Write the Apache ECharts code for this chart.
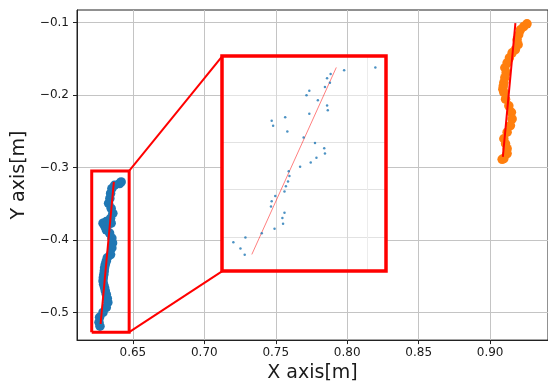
<!DOCTYPE html>
<html><head><meta charset="utf-8">
<script src="https://cdn.jsdelivr.net/npm/echarts@6/dist/echarts.min.js"></script>
<style>html,body{margin:0;padding:0;background:#fff}#c{width:548px;height:388px}</style>
</head><body><div id="c"></div><script>
// Axis ticks
const xTicks = [0.65, 0.70, 0.75, 0.80, 0.85, 0.90];
const xTickLabels = ['0.65', '0.70', '0.75', '0.80', '0.85', '0.90'];
const yTicks = [-0.5, -0.4, -0.3, -0.2, -0.1];
const yTickLabels = ['\u22120.5', '\u22120.4', '\u22120.3', '\u22120.2', '\u22120.1'];
const xRange = [0.6109, 0.9405];
const yRange = [-0.5378, -0.0827];

// Blue trajectory
const blueX = [0.6418,0.6407,0.6372,0.6353,0.6344,0.6339,0.6330,0.6348,0.6360,0.6344,0.6314,0.6291,0.6348,0.6302,0.6314,0.6337,0.6353,0.6358,0.6353,0.6344,0.6321,0.6314,0.6307,0.6302,0.6300,0.6297,0.6293,0.6291,0.6295,0.6302,0.6307,0.6314,0.6321,0.6325,0.6314,0.6291,0.6267,0.6263,0.6270];
const blueY = [-0.3197,-0.3220,-0.3243,-0.3288,-0.3356,-0.3425,-0.3493,-0.3561,-0.3630,-0.3698,-0.3743,-0.3766,-0.3766,-0.3803,-0.3858,-0.3903,-0.3971,-0.4039,-0.4108,-0.4199,-0.4244,-0.4290,-0.4336,-0.4381,-0.4426,-0.4473,-0.4518,-0.4563,-0.4609,-0.4654,-0.4699,-0.4746,-0.4802,-0.4859,-0.4928,-0.4996,-0.5064,-0.5133,-0.5187];
const blueFitX = [0.6367, 0.6274];
const blueFitY = [-0.3197, -0.5156];

// Orange trajectory
const orangeX = [0.9258,0.9235,0.9212,0.9200,0.9189,0.9196,0.9177,0.9154,0.9135,0.9119,0.9103,0.9112,0.9103,0.9096,0.9092,0.9089,0.9096,0.9108,0.9131,0.9149,0.9154,0.9142,0.9119,0.9096,0.9108,0.9119,0.9119,0.9096,0.9084];
const orangeY = [-0.1018,-0.1055,-0.1100,-0.1168,-0.1236,-0.1305,-0.1373,-0.1418,-0.1486,-0.1555,-0.1623,-0.1691,-0.1760,-0.1828,-0.1875,-0.1919,-0.1964,-0.2056,-0.2148,-0.2238,-0.2329,-0.2421,-0.2511,-0.2602,-0.2671,-0.2739,-0.2807,-0.2876,-0.2885];
const orangeFitX = [0.9177, 0.9089];
const orangeFitY = [-0.1008, -0.2852];

// Zoom box (data) and inset placement (in main data units)
const zoomBoxX = [0.6212, 0.6474];
const zoomBoxY = [-0.5269, -0.3046];
const insetBoxX = [0.7126, 0.8272];
const insetBoxY = [-0.4426, -0.1464];

// Inset axes
const insetXRange = [0.6224, 0.6455];
const insetYRange = [-0.536, -0.3088];
const insetXTicks = [0.630, 0.640, 0.6428];
const insetYTicks = [-0.50, -0.45, -0.40, -0.35];
const insetX = [0.6396,0.6440,0.6377,0.6372,0.6376,0.6369,0.6347,0.6343,0.6359,0.6372,0.6373,0.6347,0.6313,0.6294,0.6296,0.6316,0.6339,0.6355,0.6368,0.6369,0.6357,0.6349,0.6334,0.6318,0.6319,0.6317,0.6314,0.6312,0.6299,0.6294,0.6293,0.6312,0.6309,0.6310,0.6298,0.6280,0.6257,0.6240,0.6250,0.6256];
const insetY = [-0.3238,-0.3209,-0.3277,-0.3322,-0.3371,-0.3416,-0.3455,-0.3503,-0.3556,-0.3612,-0.3661,-0.3699,-0.3734,-0.3773,-0.3825,-0.3885,-0.3948,-0.4007,-0.4063,-0.4119,-0.4164,-0.4213,-0.4258,-0.4305,-0.4357,-0.4413,-0.4465,-0.4521,-0.4567,-0.4622,-0.4678,-0.4745,-0.4801,-0.4860,-0.4913,-0.4961,-0.5007,-0.5056,-0.5123,-0.5189];
const insetFitX = [0.6266, 0.6385];
const insetFitY = [-0.5185, -0.3209];

const zip = (a, b) => a.map((v, i) => [v, b[i]]);
const FONT = 'DejaVu Sans';
const TXT = '#1a1a1a';
const AX = '#222';

const chart = echarts.init(document.getElementById('c'), null, {renderer: 'canvas'});

const option = {
  animation: false,
  backgroundColor: '#fff',
  grid: [
    {left: 77, top: 10, right: -1, bottom: 45, show: true, borderColor: AX, borderWidth: 1, z: 0},
    {left: 223, top: 57, width: 164, height: 216, show: true, backgroundColor: '#fff', borderColor: 'rgba(0,0,0,0)', borderWidth: 0, z: 10}
  ],
  xAxis: [
    {
      type: 'value', gridIndex: 0, min: xRange[0], max: xRange[1],
      name: 'X axis[m]', nameLocation: 'middle', nameGap: 22,
      nameTextStyle: {fontFamily: FONT, fontSize: 19, color: TXT},
      axisLine: {show: true, onZero: false, lineStyle: {color: AX, width: 1}},
      axisTick: {show: true, length: 4, lineStyle: {color: AX}, customValues: xTicks},
      axisLabel: {show: true, margin: 7, fontFamily: FONT, fontSize: 12, color: TXT, customValues: xTicks,
        formatter: v => { const i = xTicks.findIndex(t => Math.abs(t - v) < 1e-6); return i >= 0 ? xTickLabels[i] : ''; }},
      splitLine: {show: true, lineStyle: {color: '#c4c4c4', width: 1}}
    },
    {
      type: 'value', gridIndex: 1, min: insetXRange[0], max: insetXRange[1], z: 11,
      axisLine: {show: false}, axisLabel: {show: false},
      axisTick: {show: false, customValues: insetXTicks},
      splitLine: {show: true, lineStyle: {color: ['#d6d6d6', '#d6d6d6', '#ececec'], width: 1}}
    }
  ],
  yAxis: [
    {
      type: 'value', gridIndex: 0, min: yRange[0], max: yRange[1],
      name: 'Y axis[m]', nameLocation: 'middle', nameGap: 48,
      nameTextStyle: {fontFamily: FONT, fontSize: 19, color: TXT},
      axisLine: {show: true, onZero: false, lineStyle: {color: AX, width: 1}},
      axisTick: {show: true, length: 4, lineStyle: {color: AX}, customValues: yTicks},
      axisLabel: {show: true, margin: 8, fontFamily: FONT, fontSize: 12, color: TXT, customValues: yTicks,
        formatter: v => { const i = yTicks.findIndex(t => Math.abs(t - v) < 1e-6); return i >= 0 ? yTickLabels[i] : ''; }},
      splitLine: {show: true, lineStyle: {color: '#c4c4c4', width: 1}}
    },
    {
      type: 'value', gridIndex: 1, min: insetYRange[0], max: insetYRange[1], z: 11,
      axisLine: {show: false}, axisLabel: {show: false},
      axisTick: {show: false, customValues: insetYTicks},
      splitLine: {show: true, lineStyle: {color: '#e2e2e2', width: 1}}
    }
  ],
  series: [
    {type: 'scatter', xAxisIndex: 0, yAxisIndex: 0, data: zip(blueX, blueY), symbolSize: 9.5,
      itemStyle: {color: '#1f77b4', opacity: 1}, silent: true, z: 2},
    {type: 'line', xAxisIndex: 0, yAxisIndex: 0, data: zip(blueFitX, blueFitY), showSymbol: false, symbol: 'none',
      lineStyle: {color: '#ff0000', width: 2}, silent: true, z: 3},
    {type: 'scatter', xAxisIndex: 0, yAxisIndex: 0, data: zip(orangeX, orangeY), symbolSize: 9.5,
      itemStyle: {color: '#ff7f0e', opacity: 1}, silent: true, z: 2},
    {type: 'line', xAxisIndex: 0, yAxisIndex: 0, data: zip(orangeFitX, orangeFitY), showSymbol: false, symbol: 'none',
      lineStyle: {color: '#ff0000', width: 2}, silent: true, z: 3},
    {type: 'line', xAxisIndex: 0, yAxisIndex: 0, showSymbol: false, symbol: 'none', silent: true, z: 4,
      data: [[zoomBoxX[0], zoomBoxY[0]], [zoomBoxX[1], zoomBoxY[0]], [zoomBoxX[1], zoomBoxY[1]], [zoomBoxX[0], zoomBoxY[1]], [zoomBoxX[0], zoomBoxY[0]]],
      lineStyle: {color: '#ff0000', width: 3, join: 'miter'}},
    {type: 'line', xAxisIndex: 0, yAxisIndex: 0, showSymbol: false, symbol: 'none', silent: true, z: 4,
      data: [[zoomBoxX[1], zoomBoxY[1]], [insetBoxX[0], insetBoxY[1]]], lineStyle: {color: '#ff0000', width: 2}},
    {type: 'line', xAxisIndex: 0, yAxisIndex: 0, showSymbol: false, symbol: 'none', silent: true, z: 4,
      data: [[zoomBoxX[1], zoomBoxY[0]], [insetBoxX[0], insetBoxY[0]]], lineStyle: {color: '#ff0000', width: 2}},
    {type: 'scatter', xAxisIndex: 1, yAxisIndex: 1, data: zip(insetX, insetY), symbolSize: 2.5,
      itemStyle: {color: '#1f77b4'}, silent: true, z: 12},
    {type: 'line', xAxisIndex: 1, yAxisIndex: 1, data: zip(insetFitX, insetFitY), showSymbol: false, symbol: 'none',
      lineStyle: {color: 'rgba(255,0,0,0.5)', width: 1}, silent: true, z: 12}
  ]
};
chart.setOption(option);

// Place the inset grid at its region in main-axis data units
const p0 = chart.convertToPixel({gridIndex: 0}, [insetBoxX[0], insetBoxY[1]]);
const p1 = chart.convertToPixel({gridIndex: 0}, [insetBoxX[1], insetBoxY[0]]);
const L = Math.round(p0[0]), T = Math.round(p0[1]), W = Math.round(p1[0] - p0[0]), H = Math.round(p1[1] - p0[1]);
chart.setOption({
  grid: [{}, {left: L, top: T, width: W, height: H}],
  graphic: [{type: 'rect', shape: {x: L, y: T, width: W, height: H}, style: {fill: null, stroke: '#ff0000', lineWidth: 3.5}, z: 100, silent: true}]
});
</script></body></html>
